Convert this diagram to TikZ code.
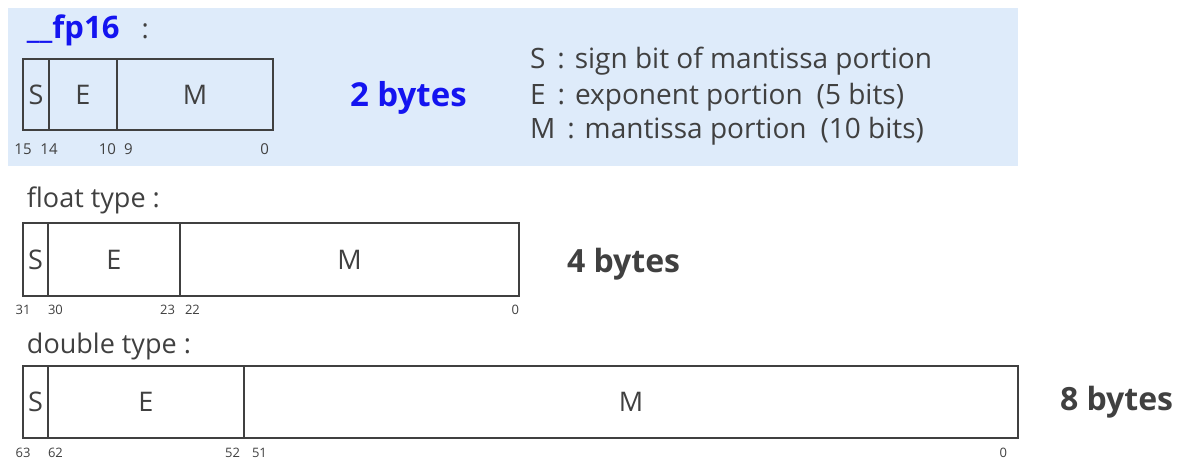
\documentclass[tikz,border=0pt]{standalone}
\usepackage{fontspec}
\setmainfont{Open Sans}
\definecolor{PanelBlue}{RGB}{222, 235, 250}
\definecolor{FpBlue}{RGB}{20, 20, 240}
\definecolor{InkGray}{RGB}{64, 64, 64}
\usetikzlibrary{positioning}

\begin{document}
\begin{tikzpicture}[
    x=1pt, y=-1pt,
    every node/.style={inner sep=0pt, outer sep=0pt, text=InkGray},
    field/.style={draw=InkGray, line width=2.5pt, anchor=north west,
                  font=\fontsize{27}{30}\selectfont},
    bitno/.style={font=\fontsize{13}{15}\selectfont},
    typelabel/.style={anchor=base west, font=\fontsize{27}{30}\selectfont},
    sizelabel/.style={anchor=base west, font=\bfseries\fontsize{32}{36}\selectfont},
    legend/.style={anchor=base west, font=\fontsize{28}{30}\selectfont}
]
\useasboundingbox (0,0) rectangle (1180,466);
\fill[PanelBlue] (8,8) rectangle (1018,166);

% __fp16
\node[typelabel, text=FpBlue, font=\bfseries\fontsize{31}{32}\selectfont] (hlab) at (27,38) {\_\_fp16};
\node[typelabel, right=22pt of hlab.base east, anchor=base west] (hcolon) {:};
\node[field, minimum width=26pt, minimum height=71pt] (hs) at (23,59) {S};
\node[field, minimum width=68pt, minimum height=71pt, right=0pt of hs] (he) {E};
\node[field, minimum width=156pt, minimum height=71pt, right=0pt of he] (hm) {M};
\node[bitno, font=\fontsize{15}{17}\selectfont, below=14pt of hs.south west] {15};
\node[bitno, font=\fontsize{15}{17}\selectfont, below=14pt of he.south west] {14};
\node[bitno, font=\fontsize{15}{17}\selectfont, below left=14pt and 1pt of he.south east] {10};
\node[bitno, font=\fontsize{15}{17}\selectfont, below right=14pt and 7pt of hm.south west] {9};
\node[bitno, font=\fontsize{15}{17}\selectfont, below left=14pt and 4pt of hm.south east] {0};
\node[sizelabel, text=FpBlue, font=\bfseries\fontsize{33}{36}\selectfont] (hsize) at (350,106) {2 bytes};

% legend
\node[legend] (lgs) at (530,68) {S\hspace{12pt}:\hspace{10pt}sign bit of mantissa portion};
\node[legend] (lge) at (530,104) {E\hspace{12pt}:\hspace{10pt}exponent portion\hspace{14pt}(5 bits)};
\node[legend] (lgm) at (530,138) {M\hspace{12pt}:\hspace{10pt}mantissa portion\hspace{14pt}(10 bits)};

% float
\node[typelabel] (flab) at (27,207) {float type :};
\node[field, minimum width=25pt, minimum height=73pt] (fs) at (23,223) {S};
\node[field, minimum width=132pt, minimum height=73pt, right=0pt of fs] (fe) {E};
\node[field, minimum width=339pt, minimum height=73pt, right=0pt of fe] (fm) {M};
\node[bitno, below=9pt of fs.south west] {31};
\node[bitno, below right=9pt and 0pt of fe.south west] {30};
\node[bitno, below left=9pt and 5pt of fe.south east] {23};
\node[bitno, below right=9pt and 5pt of fm.south west] {22};
\node[bitno, below left=9pt and 0pt of fm.south east] {0};
\node[sizelabel] (fsize) at (567,272) {4 bytes};

% double
\node[typelabel] (dlab) at (27,353) {double type :};
\node[field, minimum width=25pt, minimum height=72pt] (ds) at (23,366) {S};
\node[field, minimum width=196pt, minimum height=72pt, right=0pt of ds] (de) {E};
\node[field, minimum width=774pt, minimum height=72pt, right=0pt of de] (dm) {M};
\node[bitno, below=10pt of ds.south west] {63};
\node[bitno, below right=10pt and 0pt of de.south west] {62};
\node[bitno, below left=10pt and 4pt of de.south east] {52};
\node[bitno, below right=10pt and 8pt of dm.south west] {51};
\node[bitno, below left=10pt and 11pt of dm.south east] {0};
\node[sizelabel] (dsize) at (1060,410) {8 bytes};
\end{tikzpicture}
\end{document}
